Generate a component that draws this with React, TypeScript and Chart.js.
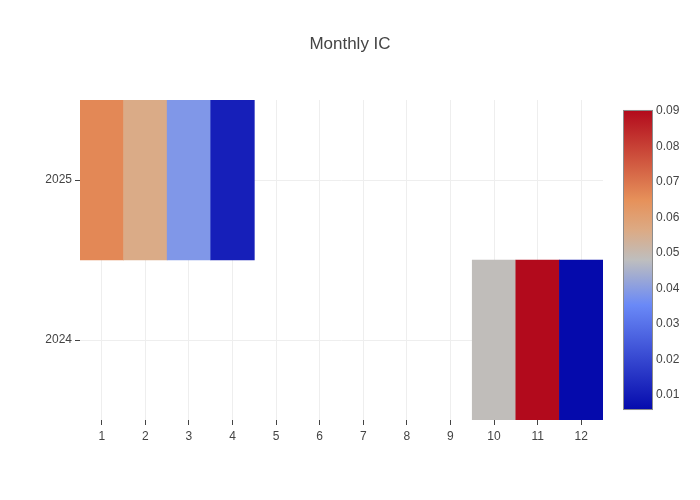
import React, { useEffect, useRef } from "react";
import { Chart, registerables } from "chart.js";

Chart.register(...registerables);

const months = ["1", "2", "3", "4", "5", "6", "7", "8", "9", "10", "11", "12"];
const years = ["2024", "2025"];
const ic2024: (number | null)[] = [null, null, null, null, null, null, null, null, null, 0.0486, 0.0902, 0.0058];
const ic2025: (number | null)[] = [0.0665, 0.056, 0.0386, 0.0108, null, null, null, null, null, null, null, null];
const zMin = 0.0058;
const zMax = 0.0902;
const colorbarTicks = [0.01, 0.02, 0.03, 0.04, 0.05, 0.06, 0.07, 0.08, 0.09];

const colorscale: [number, [number, number, number]][] = [
  [0, [5, 10, 172]],
  [0.35, [106, 137, 247]],
  [0.5, [190, 190, 190]],
  [0.6, [220, 170, 132]],
  [0.7, [230, 145, 90]],
  [1, [178, 10, 28]],
];

function colorFor(v: number): string {
  let t = (v - zMin) / (zMax - zMin);
  t = Math.max(0, Math.min(1, t));
  for (let i = 1; i < colorscale.length; i++) {
    const [t1, c1] = colorscale[i];
    const [t0, c0] = colorscale[i - 1];
    if (t <= t1) {
      const f = (t - t0) / (t1 - t0);
      const c = c0.map((a, k) => Math.round(a + (c1[k] - a) * f));
      return `rgb(${c[0]},${c[1]},${c[2]})`;
    }
  }
  const c = colorscale[colorscale.length - 1][1];
  return `rgb(${c[0]},${c[1]},${c[2]})`;
}

const FONT = "'Liberation Sans', Arial, sans-serif";
const TEXT = "#444";

const colorbarPlugin = {
  id: "colorbar",
  afterDraw(chart: any) {
    const s = chart.scales.cb;
    if (!s) return;
    const ctx = chart.ctx;
    const x0 = s.left + 20;
    const w = 30;
    const yTop = s.getPixelForValue(zMax);
    const yBot = s.getPixelForValue(zMin);
    const g = ctx.createLinearGradient(0, yBot, 0, yTop);
    colorscale.forEach(([t, c]) => g.addColorStop(t, `rgb(${c[0]},${c[1]},${c[2]})`));
    ctx.save();
    ctx.fillStyle = g;
    ctx.fillRect(x0, yTop, w, yBot - yTop);
    ctx.strokeStyle = "#8c8c8c";
    ctx.lineWidth = 1;
    ctx.strokeRect(Math.round(x0) + 0.5, Math.round(yTop) + 0.5, w - 1, Math.round(yBot - yTop) - 1);
    ctx.restore();
  },
};

export default function App() {
  const ref = useRef<HTMLCanvasElement | null>(null);

  useEffect(() => {
    if (!ref.current) return;
    const mk = (vals: (number | null)[], yi: number) => ({
      label: years[yi],
      data: vals.map((v) => (v == null ? null : [yi - 0.5, yi + 0.5])),
      backgroundColor: vals.map((v) => (v == null ? "rgba(0,0,0,0)" : colorFor(v))),
      borderWidth: 0,
      barPercentage: 1,
      categoryPercentage: 1,
      grouped: false,
    });
    const chart = new Chart(ref.current, {
      type: "bar",
      data: {
        labels: months,
        datasets: [mk(ic2024, 0), mk(ic2025, 1)] as any,
      },
      options: {
        animation: false,
        responsive: false,
        layout: { padding: 0 },
        plugins: {
          legend: { display: false },
          tooltip: { enabled: false },
          title: {
            display: true,
            text: "Monthly IC",
            color: TEXT,
            font: { family: FONT, size: 17, weight: "normal" },
            padding: { top: 34.6, bottom: 45 },
          },
        },
        scales: {
          x: {
            type: "category",
            offset: true,
            border: { display: false },
            grid: { color: "#eee", offset: false, drawTicks: true, tickLength: 5, tickColor: TEXT },
            ticks: { color: TEXT, font: { family: FONT, size: 12 }, padding: 4, maxRotation: 0 },
            afterFit: (s: any) => {
              s.height = 80;
            },
          },
          y: {
            type: "linear",
            min: -0.5,
            max: 1.5,
            border: { display: false },
            grid: { color: "#eee", drawTicks: true, tickLength: 5, tickColor: TEXT },
            ticks: {
              color: TEXT,
              font: { family: FONT, size: 12 },
              padding: 3,
              callback: (v: any) => years[v as number] ?? "",
            },
            afterBuildTicks: (s: any) => {
              s.ticks = years.map((_, i) => ({ value: i }));
            },
            afterFit: (s: any) => {
              s.width = 80;
            },
          },
          cb: {
            type: "linear",
            position: "right",
            min: zMin - 10 / 3560,
            max: zMax + 10 / 3560,
            border: { display: false },
            grid: { display: false, drawTicks: false },
            ticks: {
              color: TEXT,
              font: { family: FONT, size: 12 },
              padding: 53,
              callback: (v: any) => Number(v).toFixed(2),
            },
            afterBuildTicks: (s: any) => {
              s.ticks = colorbarTicks.map((v) => ({ value: v }));
            },
            afterFit: (s: any) => {
              s.width = 97;
            },
          },
        },
      } as any,
      plugins: [colorbarPlugin],
    });
    return () => chart.destroy();
  }, []);

  return (
    <div style={{ position: "absolute", left: 0, top: 0, width: 700, height: 500, background: "#fff" }}>
      <canvas ref={ref} width={700} height={500} style={{ display: "block" }} />
    </div>
  );
}
